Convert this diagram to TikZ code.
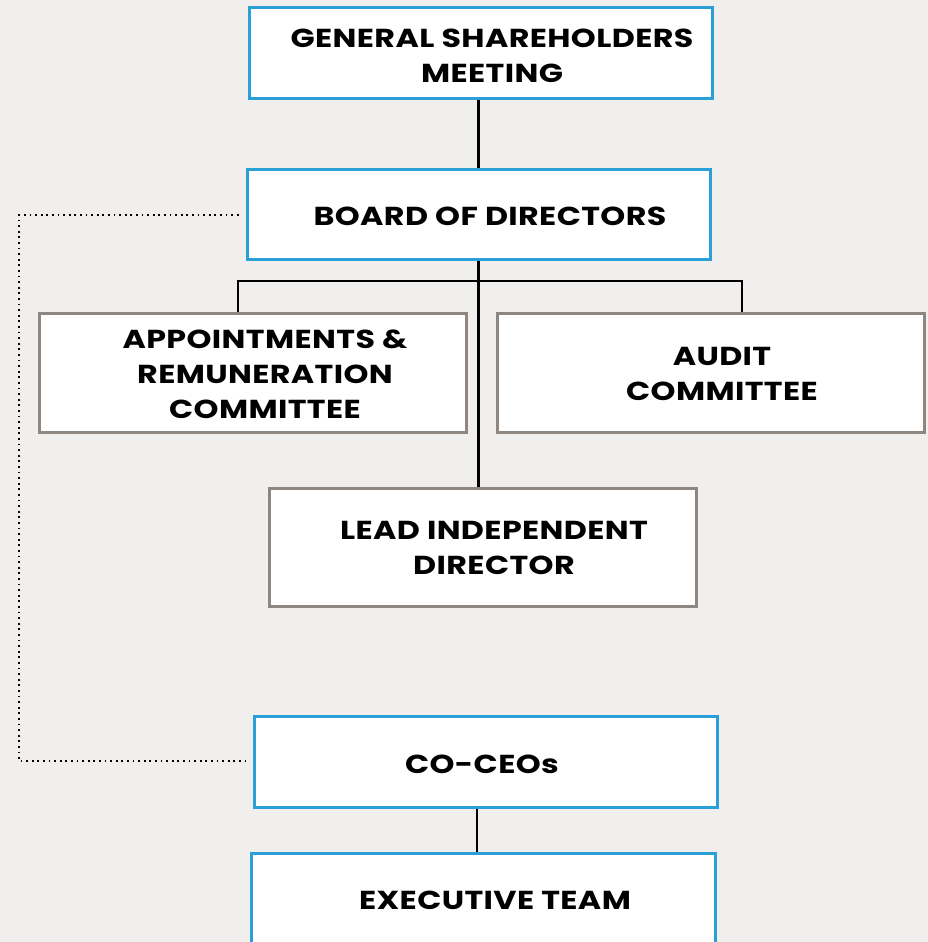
\documentclass[tikz,border=0pt]{standalone}
\usepackage{fontspec}
\setmainfont{Poppins}
\newfontfamily\gfont[FakeStretch=1.22,LetterSpace=1.5]{Poppins}
\definecolor{bgc}{HTML}{F0EFED}
\definecolor{blu}{HTML}{2BA0D8}
\definecolor{gry}{HTML}{8E8680}
\tikzset{
  bluebox/.style={draw=blu, line width=3pt, fill=white, rectangle, inner sep=0pt},
  grybox/.style={draw=gry, line width=3pt, fill=white, rectangle, inner sep=0pt},
  lbl/.style={font=\gfont\bfseries\fontsize{26}{35}\selectfont, align=center, text=black, inner sep=0pt},
  conn/.style={draw=black, line width=2.5pt},
  dotline/.style={draw=black, line width=1.8pt, dash pattern=on 1.8pt off 3.8pt}
}
\begin{document}
\begin{tikzpicture}[x=1pt,y=-1pt]
\useasboundingbox (0,0) rectangle (928,942);
\clip (0,0) rectangle (928,942);
\fill[bgc] (0,0) rectangle (928,942);

\node[bluebox, minimum width=463pt, minimum height=90pt] (gsm) at (480.5,53) {};
\node[bluebox, minimum width=463pt, minimum height=90pt] (bod) at (478.5,214) {};
\node[grybox, minimum width=427pt, minimum height=119pt] (arc) at (252.5,372.5) {};
\node[grybox, minimum width=427pt, minimum height=119pt] (aud) at (710.5,372.5) {};
\node[grybox, minimum width=427pt, minimum height=118pt] (lid) at (482.5,547) {};
\node[bluebox, minimum width=463pt, minimum height=91pt] (ceo) at (485.5,761.5) {};
\node[bluebox, minimum width=464pt, minimum height=110pt] (exe) at (483,908) {};

\node[lbl] (tgsm) at (492,55.5) {GENERAL SHAREHOLDERS\\MEETING};
\node[lbl] (tbod) at (490,216) {BOARD OF DIRECTORS};
\node[lbl] (tarc) at (265,374.5) {APPOINTMENTS \&\\REMUNERATION\\COMMITTEE};
\node[lbl] (taud) at (722,374) {AUDIT\\COMMITTEE};
\node[lbl] (tlid) at (494,548) {LEAD INDEPENDENT\\DIRECTOR};
\node[lbl] (tceo) at (482,764) {CO-CEOs};
\node[lbl] (texe) at (495,900) {EXECUTIVE TEAM};

\coordinate (j1) at (238,281);
\coordinate (j2) at (742,281);
\coordinate (j3) at (477,0);
\coordinate (d1) at (19,215);
\coordinate (d2) at (19,761);

\draw[conn] (gsm.south -| bod.north) -- (bod.north);
\draw[conn] (bod.south) -- (bod.south |- lid.north);
\draw[conn] (j1 |- arc.north) -- (j1) -- (j2) -- (j2 |- aud.north);
\draw[conn] (j3 |- ceo.south) -- (j3 |- exe.north);
\draw[dotline] ([xshift=-7pt]bod.west |- d1) -- (d1) -- (d2) -- ([xshift=-4pt]ceo.west |- d2);
\end{tikzpicture}
\end{document}
